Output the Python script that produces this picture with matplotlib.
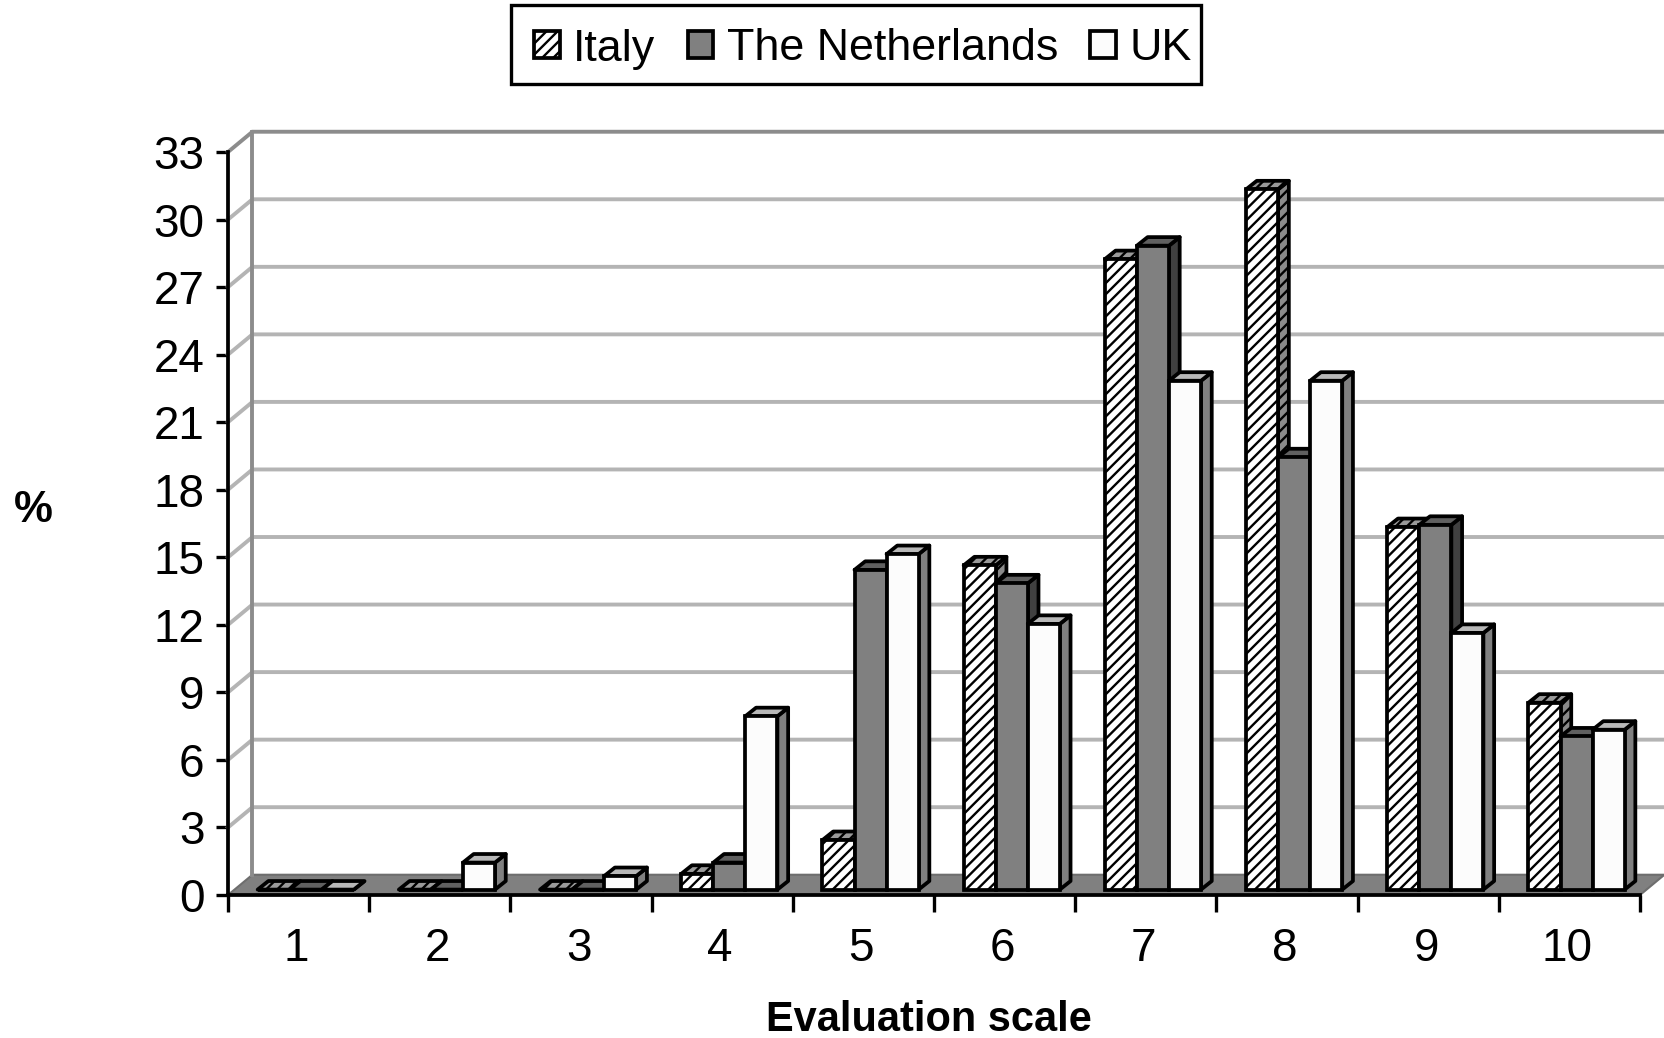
import matplotlib
matplotlib.use("Agg")
import matplotlib.pyplot as plt
from matplotlib.patches import Polygon, Rectangle

categories = ["1", "2", "3", "4", "5", "6", "7", "8", "9", "10"]
italy = [0, 0, 0, 0.7, 2.2, 14.4, 28.0, 31.1, 16.1, 8.3]
netherlands = [0, 0, 0, 1.2, 14.2, 13.6, 28.6, 19.2, 16.2, 6.8]
uk = [0, 1.2, 0.6, 7.7, 14.9, 11.8, 22.6, 22.6, 11.4, 7.1]
series_names = ["Italy", "The Netherlands", "UK"]
yticks = list(range(0, 34, 3))

plt.rcParams["font.family"] = ["Liberation Sans", "DejaVu Sans"]
plt.rcParams["hatch.linewidth"] = 1.7

W, H = 1664, 1038
fig = plt.figure(figsize=(W / 100, H / 100), dpi=100)
L, R, T, B = 228, 1640, 152, 895
ax = fig.add_axes([L / W, 1 - B / H, (R - L) / W, (B - T) / H])
ax.set_xlim(0, 10)
ax.set_ylim(0, 33)

WALL_X, WALL_Y = 0.173, 0.9      # depth of the chart floor
BAR_X, BAR_Y = 0.076, 0.38       # depth of a bar
BASE_Y = 0.24
BAR_W = 0.227
START = 0.21
LW = 2.7

# floor and walls
ax.add_patch(Polygon([(0, 0), (10, 0), (10 + WALL_X, WALL_Y), (WALL_X, WALL_Y)],
                     closed=True, facecolor="#808080", edgecolor="#6e6e6e", lw=1.5,
                     clip_on=False, zorder=1))
for v in yticks[1:]:
    c = "#8c8c8c" if v == 33 else "#b4b4b4"
    ax.plot([0, WALL_X, 10 + WALL_X], [v, v + WALL_Y, v + WALL_Y], color=c, lw=2.8,
            clip_on=False, zorder=2, solid_joinstyle="miter")
ax.plot([WALL_X, WALL_X], [WALL_Y, 33 + WALL_Y], color="#8c8c8c", lw=2.8,
        clip_on=False, zorder=2.5)

styles = [
    dict(front="#ffffff", top="#9a9a9a", side="#8a8a8a", hatch="///"),
    dict(front="#808080", top="#606060", side="#404040", hatch=None),
    dict(front="#fcfcfc", top="#b8b8b8", side="#808080", hatch=None),
]
all_values = [italy, netherlands, uk]
positions = list(range(len(categories)))

for s, (vals, st, name) in enumerate(zip(all_values, styles, series_names)):
    xs = [i + START + s * BAR_W for i in positions]
    bars = ax.bar(xs, vals, width=BAR_W, bottom=BASE_Y, align="edge",
                  facecolor=st["front"], edgecolor="black", linewidth=LW,
                  hatch=st["hatch"], label=name, clip_on=False)
    for i, (bar, x, v) in enumerate(zip(bars, xs, vals)):
        z = 10 + i * 10 + s * 3
        y = BASE_Y + v
        side = Polygon([(x + BAR_W, BASE_Y), (x + BAR_W + BAR_X, BASE_Y + BAR_Y),
                        (x + BAR_W + BAR_X, y + BAR_Y), (x + BAR_W, y)], closed=True,
                       facecolor=st["side"], edgecolor="black", lw=LW, hatch=st["hatch"],
                       joinstyle="round", clip_on=False, zorder=z)
        top = Polygon([(x, y), (x + BAR_X, y + BAR_Y), (x + BAR_W + BAR_X, y + BAR_Y),
                       (x + BAR_W, y)], closed=True, facecolor=st["top"], edgecolor="black",
                      lw=LW, hatch=st["hatch"], joinstyle="round", clip_on=False, zorder=z + 1)
        ax.add_patch(side)
        ax.add_patch(top)
        bar.set_zorder(z + 2)

# axes
for sp in ("top", "right"):
    ax.spines[sp].set_visible(False)
for sp in ("left", "bottom"):
    ax.spines[sp].set_linewidth(2.7)
    ax.spines[sp].set_zorder(200)
ax.set_yticks(yticks)
ax.tick_params(axis="y", length=9, width=2.4, labelsize=33, pad=8)
ax.set_xticks(range(len(categories) + 1))
ax.set_xticklabels([])
ax.tick_params(axis="x", which="major", length=12, width=2.4)
ax.set_xticks([i + 0.485 for i in positions], minor=True)
ax.set_xticklabels(categories, minor=True)
ax.tick_params(axis="x", which="minor", length=0, labelsize=33, pad=23)

fig.text(33 / W, 1 - 510 / H, "%", fontsize=31.5, fontweight="bold", ha="center", va="center")
fig.text(929 / W, 1 - 1020 / H, "Evaluation scale", fontsize=29.9, fontweight="bold",
         ha="center", va="center")

# legend
fig.add_artist(Rectangle((511 / W, 1 - 84 / H), 690 / W, 79 / H, transform=fig.transFigure,
                         facecolor="white", edgecolor="black", lw=2.4))
handles, labels = ax.get_legend_handles_labels()
leg = fig.legend(handles, labels, ncol=3, loc="center", bbox_to_anchor=(863 / W, 1 - 49 / H),
                 frameon=False, fontsize=32.3, handlelength=0.57, handleheight=0.57,
                 handletextpad=0.3, columnspacing=0.72, borderpad=0, borderaxespad=0)

fig.savefig("out.png", dpi=100, facecolor="white")
